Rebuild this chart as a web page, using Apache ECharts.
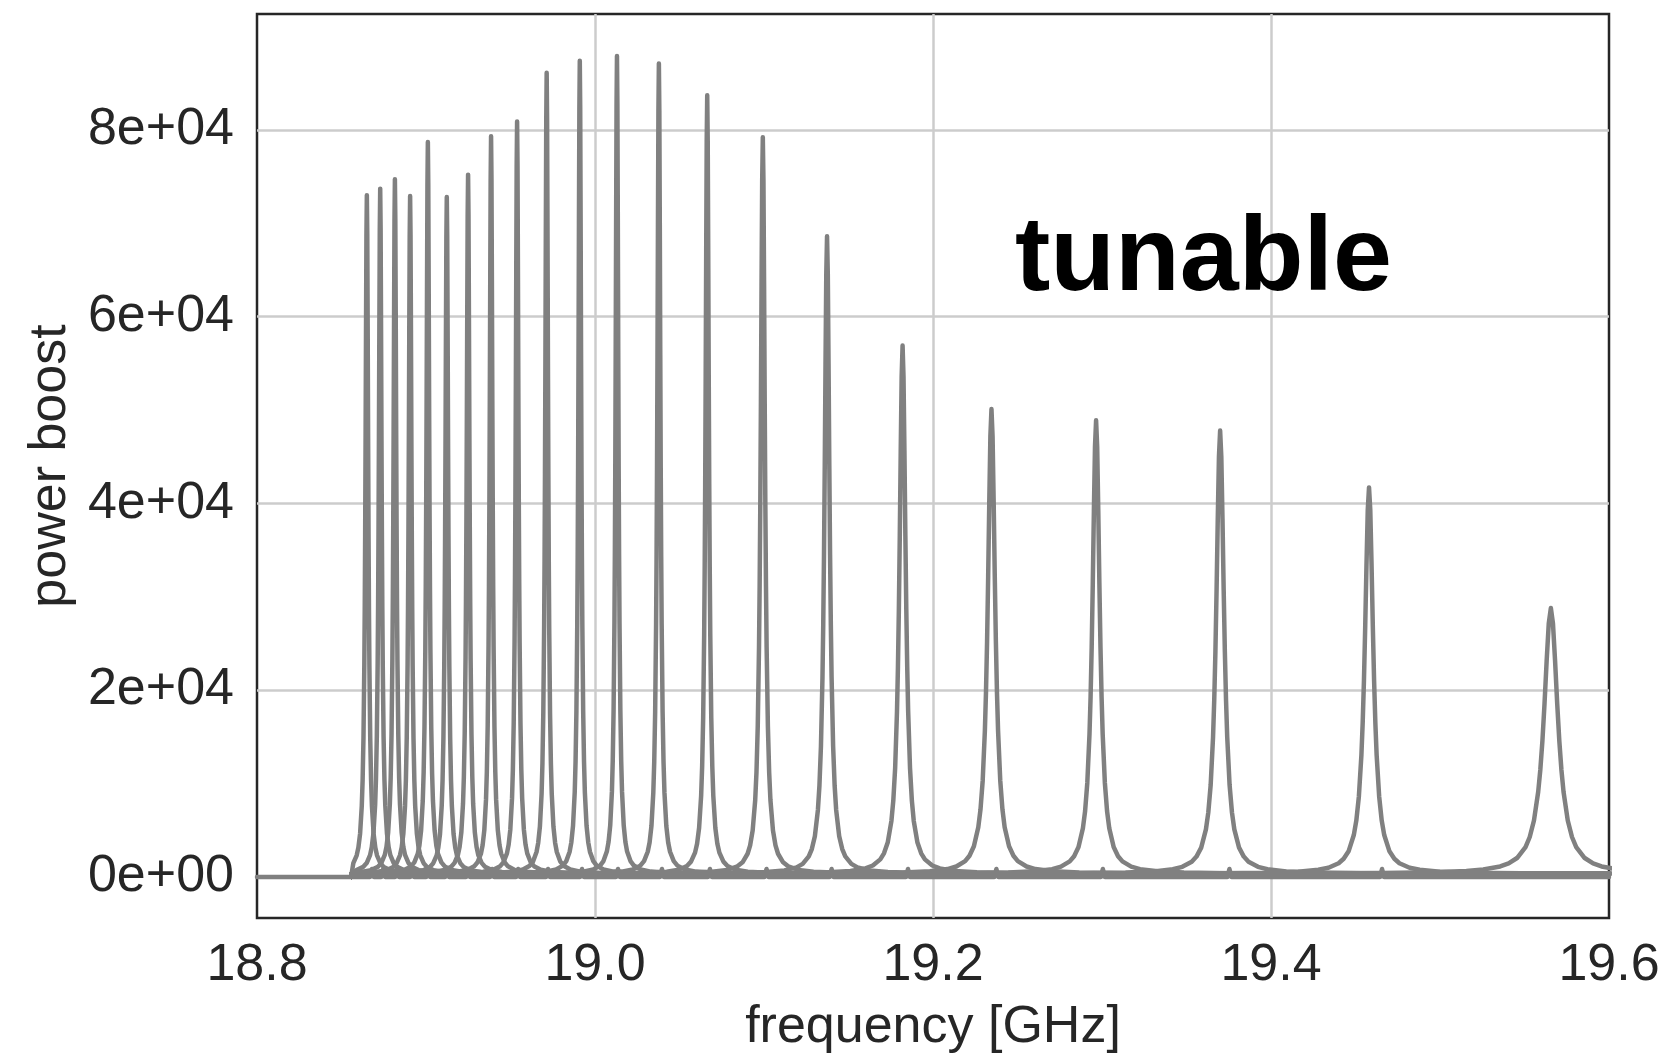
<!DOCTYPE html>
<html>
<head>
<meta charset="utf-8">
<title>power boost vs frequency</title>
<script src="https://cdn.jsdelivr.net/npm/echarts@6/dist/echarts.min.js"></script>
<style>
    html, body { margin: 0; padding: 0; background: #fff; }
    #chart { width: 1676px; height: 1062px; }
</style>
</head>
<body>
<div id="chart"></div>
<script>
// axis ranges
const freqMin = 18.8;
const freqMax = 19.6;
const boostMin = -4400;
const boostMax = 92400;

// main resonance of each curve
const peakFreq = [18.8650, 18.8729, 18.8816, 18.8906, 18.9011, 18.9123, 18.9249, 18.9385,
    18.9539, 18.9714, 18.9910, 19.0130, 19.0378, 19.0664, 19.0993, 19.1373, 19.1820,
    19.2346, 19.2965, 19.3699, 19.4580, 19.5656];
const peakHeight = [73000, 73700, 74700, 72900, 78700, 72800, 75200, 79300,
    80900, 86100, 87400, 87900, 87100, 83700, 79200, 68600, 56900,
    50100, 48900, 47800, 41700, 28800];
// half width at half maximum, GHz
const peakHalfWidth = [0.001, 0.001, 0.001, 0.001, 0.001, 0.001, 0.001, 0.001,
    0.001, 0.001, 0.001, 0.001, 0.0011, 0.0012, 0.0015, 0.0018, 0.0022,
    0.0026, 0.0026, 0.0028, 0.003, 0.005];

// resonance shape: fraction of peak height at a distance of u half widths
const profileU = [0, 0.25, 0.5, 0.75, 1, 1.25, 1.5, 2, 2.5, 3, 4, 5, 6, 8, 10, 14, 20, 30, 50, 80];
const profileLevel = [1, 0.9412, 0.8, 0.64, 0.5, 0.3902, 0.3077, 0.2, 0.1379, 0.1, 0.0588,
    0.0385, 0.027, 0.0154, 0.0099, 0.0051, 0.0025, 0.0011, 0.0004, 0.00016];

// where the curves start, and the level of their far tails
const dataStart = 18.856;
const tailFloor = 350;

// little bumps on the zero line just right of each peak
const bumpFreq = [18.8680, 18.8747, 18.8829, 18.8918, 18.9013, 18.9125, 18.9249, 18.9391,
    18.9545, 18.9722, 18.9923, 19.0136, 19.0396, 19.0680, 19.1015, 19.1400, 19.1852,
    19.2375, 19.3005, 19.3754, 19.4657];
const bumpHeight = 850;
const bumpHalfWidth = 0.0012;

const lineColor = '#808080';
const inkColor = '#262626';
const fontFamily = '"Liberation Sans", Arial, Helvetica, sans-serif';
const fontSize = 52;

function curvePoints(i) {
    const pts = [[dataStart, 0], [dataStart, tailFloor]];
    const shape = [];
    for (let k = profileU.length - 1; k > 0; k--) {
        shape.push([peakFreq[i] - profileU[k] * peakHalfWidth[i], profileLevel[k]]);
    }
    for (let k = 0; k < profileU.length; k++) {
        shape.push([peakFreq[i] + profileU[k] * peakHalfWidth[i], profileLevel[k]]);
    }
    shape.forEach(([f, lv]) => {
        if (f > dataStart) {
            pts.push([f, peakHeight[i] * lv + tailFloor * (1 - lv)]);
        }
    });
    if (pts[pts.length - 1][0] < freqMax) {
        pts.push([freqMax, tailFloor]);
    }
    return pts;
}

function baselinePoints() {
    const pts = [[freqMin, 0]];
    bumpFreq.forEach(f => {
        pts.push([f - bumpHalfWidth, 0], [f, bumpHeight], [f + bumpHalfWidth, 0]);
    });
    pts.push([freqMax, 0]);
    return pts;
}

const lineSeries = (data) => ({
    type: 'line',
    data,
    showSymbol: false,
    symbol: 'none',
    silent: true,
    clip: true,
    lineStyle: { color: lineColor, width: 4.5, cap: 'round', join: 'round' }
});

const series = [lineSeries(baselinePoints())];
peakFreq.forEach((_, i) => series.push(lineSeries(curvePoints(i))));

const myChart = echarts.init(document.getElementById('chart'), null, { renderer: 'canvas' });
myChart.setOption({
    animation: false,
    backgroundColor: '#fff',
    textStyle: { fontFamily },
    grid: {
        left: 257,
        right: 67,
        top: 14,
        bottom: 144,
        show: true,
        borderColor: inkColor,
        borderWidth: 2.5,
        backgroundColor: 'transparent',
        containLabel: false,
        outerBoundsMode: 'none'
    },
    xAxis: {
        type: 'value',
        min: freqMin,
        max: freqMax,
        interval: 0.2,
        name: 'frequency [GHz]',
        nameLocation: 'middle',
        nameGap: 84,
        nameTextStyle: { fontSize, color: inkColor, fontFamily },
        axisLine: { show: false },
        axisTick: { show: false },
        axisLabel: {
            fontSize,
            color: inkColor,
            margin: 22,
            fontFamily,
            formatter: v => v.toFixed(1)
        },
        splitLine: {
            show: true,
            showMinLine: false,
            showMaxLine: false,
            lineStyle: { color: '#cccccc', width: 2.5 }
        }
    },
    yAxis: {
        type: 'value',
        min: boostMin,
        max: boostMax,
        splitNumber: 5,
        name: 'power boost',
        nameLocation: 'middle',
        nameRotate: 90,
        nameGap: 178,
        nameTextStyle: { fontSize, color: inkColor, fontFamily },
        axisLine: { show: false },
        axisTick: { show: false },
        axisLabel: {
            fontSize,
            color: inkColor,
            margin: 23,
            fontFamily,
            showMinLabel: false,
            showMaxLabel: false,
            formatter: v => v === 0 ? '0e+00' : (v / 10000) + 'e+04'
        },
        splitLine: {
            show: true,
            showMinLine: false,
            showMaxLine: false,
            lineStyle: { color: '#cccccc', width: 2.5 }
        }
    },
    graphic: [{
        type: 'text',
        x: 1015,
        y: 261,
        z: 100,
        style: {
            text: 'tunable',
            fill: '#000',
            font: 'bold 106px "Liberation Sans", Arial, sans-serif',
            textAlign: 'left',
            textVerticalAlign: 'middle'
        }
    }],
    series
});
</script>
</body>
</html>
